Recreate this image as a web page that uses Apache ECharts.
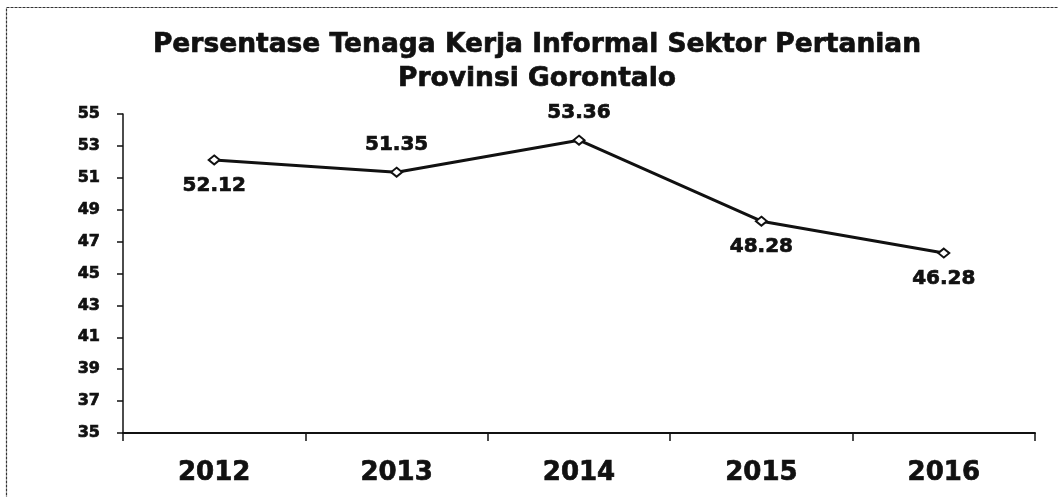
<!DOCTYPE html>
<html>
<head>
<meta charset="utf-8">
<script src="https://cdn.jsdelivr.net/npm/echarts@6/dist/echarts.min.js"></script>
<style>
  html, body { margin: 0; padding: 0; background: #fff; }
  #chart { width: 1058px; height: 497px; }
</style>
</head>
<body>
<div id="chart"></div>
<script>
// Share of informal agricultural workers, Gorontalo province (%)
const years = ['2012', '2013', '2014', '2015', '2016'];
const shares = [52.12, 51.35, 53.36, 48.28, 46.28];
const labelSides = ['bottom', 'top', 'top', 'bottom', 'bottom'];
const yTicks = { min: 35, max: 55, step: 2 };

const numFont = '"DejaVu Sans", sans-serif';
// thin outline in the text colour to give the heavy print look
const heavy = { textBorderColor: '#111', textBorderWidth: 0.7 };

const chart = echarts.init(document.getElementById('chart'), null, { renderer: 'canvas' });

chart.setOption({
  backgroundColor: '#ffffff',
  animation: false,
  title: {
    text: 'Persentase Tenaga Kerja Informal Sektor Pertanian\nProvinsi Gorontalo',
    left: 532,
    top: 23,
    textAlign: 'center',
    textStyle: Object.assign({
      fontFamily: numFont,
      fontWeight: 'bold',
      fontSize: 26.5,
      lineHeight: 34,
      color: '#111'
    }, heavy)
  },
  graphic: [{
    type: 'rect',
    shape: { x: 6.5, y: 7.5, width: 1200, height: 700 },
    style: { fill: 'none', stroke: '#333', lineWidth: 1.2, lineDash: [3, 1] },
    silent: true,
    z: 100
  }],
  grid: { left: 123, right: 23, top: 114, bottom: 64 },
  xAxis: {
    type: 'category',
    data: years,
    boundaryGap: true,
    axisLine: { lineStyle: { color: '#111', width: 2 } },
    axisTick: { show: true, length: 8, lineStyle: { color: '#111', width: 1.5 } },
    axisLabel: Object.assign({
      margin: 27,
      fontFamily: numFont,
      fontWeight: 'bold',
      fontSize: 26,
      color: '#111'
    }, heavy),
    splitLine: { show: false }
  },
  yAxis: {
    type: 'value',
    min: yTicks.min,
    max: yTicks.max,
    interval: yTicks.step,
    axisLine: { show: true, lineStyle: { color: '#111', width: 1.5 } },
    axisTick: { show: true, length: 6, lineStyle: { color: '#111', width: 1.5 } },
    axisLabel: Object.assign({
      margin: 23,
      fontFamily: numFont,
      fontWeight: 'bold',
      fontSize: 16,
      color: '#111'
    }, heavy),
    splitLine: { show: false }
  },
  series: [{
    type: 'line',
    data: shares.map((v, i) => ({
      value: v,
      label: {
        position: labelSides[i],
        distance: labelSides[i] === 'top' ? 12 : 10
      }
    })),
    symbol: 'emptyDiamond',
    symbolSize: [11, 9],
    lineStyle: { color: '#111', width: 3 },
    itemStyle: { color: '#111', borderColor: '#111', borderWidth: 2 },
    label: Object.assign({
      show: true,
      fontFamily: numFont,
      fontWeight: 'bold',
      fontSize: 20,
      color: '#111',
      formatter: p => p.value.toFixed(2)
    }, heavy)
  }]
});
</script>
</body>
</html>
